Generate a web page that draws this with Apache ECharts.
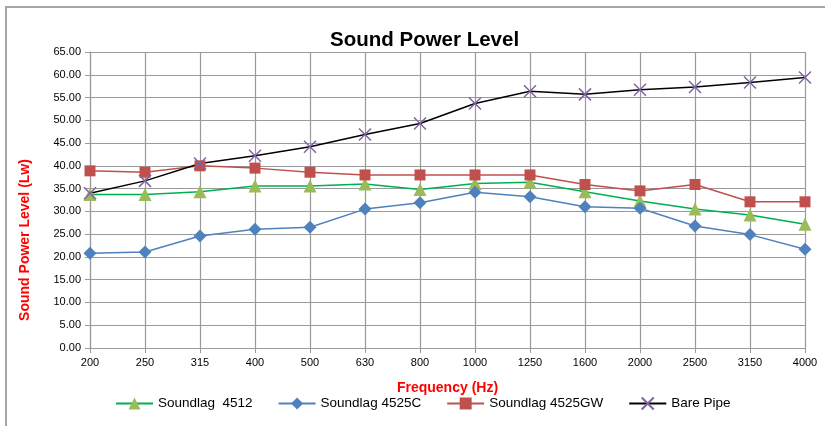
<!DOCTYPE html>
<html>
<head>
<meta charset="utf-8">
<script src="https://cdn.jsdelivr.net/npm/echarts@6/dist/echarts.min.js"></script>
<style>
  html, body { margin: 0; padding: 0; background: #fff; }
  #chart { width: 825px; height: 426px; }
</style>
</head>
<body>
<div id="chart"></div>
<script>
var frequencies = ['200', '250', '315', '400', '500', '630', '800', '1000', '1250', '1600', '2000', '2500', '3150', '4000'];
var soundlag4512 = [33.7, 33.7, 34.3, 35.6, 35.6, 36.0, 34.8, 36.1, 36.4, 34.3, 32.3, 30.5, 29.2, 27.2];
var soundlag4525C = [20.8, 21.1, 24.6, 26.1, 26.5, 30.5, 31.9, 34.2, 33.2, 31.0, 30.7, 26.8, 24.9, 21.7];
var soundlag4525GW = [38.9, 38.6, 40.0, 39.5, 38.6, 38.0, 38.0, 38.0, 38.0, 35.9, 34.5, 35.9, 32.1, 32.1];
var barePipe = [34.0, 36.7, 40.5, 42.2, 44.2, 46.9, 49.3, 53.7, 56.4, 55.7, 56.7, 57.3, 58.3, 59.4];

var font = 'Liberation Sans, Arial, sans-serif';
var gridColor = '#9a9a9a';

var chart = echarts.init(document.getElementById('chart'));
var option = {
    animation: false,
    textStyle: { fontFamily: font },
    title: {
        text: 'Sound Power Level',
        left: 325,
        top: 25,
        textStyle: { fontSize: 20.5, fontWeight: 'bold', color: '#000', fontFamily: font }
    },
    graphic: [{
        type: 'rect',
        shape: { x: 6, y: 7, width: 830, height: 430 },
        style: { fill: 'none', stroke: '#a6a6a6', lineWidth: 2 },
        silent: true
    }, {
        type: 'text',
        x: 25,
        y: 240,
        rotation: Math.PI / 2,
        style: {
            text: 'Sound Power Level (Lw)',
            fill: '#ff0000',
            font: 'bold 14px ' + font,
            align: 'center',
            verticalAlign: 'middle'
        }
    }],
    legend: {
        bottom: 9,
        left: 110,
        itemWidth: 37,
        itemHeight: 15,
        itemGap: 25,
        textStyle: { fontSize: 13.5, color: '#000', fontFamily: font },
        data: ['Soundlag  4512', 'Soundlag 4525C', 'Soundlag 4525GW', 'Bare Pipe']
    },
    grid: { left: 90, right: 20, top: 52, bottom: 78 },
    xAxis: {
        type: 'category',
        boundaryGap: false,
        data: frequencies,
        name: 'Frequency (Hz)',
        nameLocation: 'middle',
        nameGap: 33,
        nameTextStyle: { color: '#ff0000', fontWeight: 'bold', fontSize: 14, fontFamily: font },
        axisLine: { lineStyle: { color: gridColor, width: 1.2 } },
        axisTick: { show: true, length: 5, alignWithLabel: true, lineStyle: { color: gridColor } },
        axisLabel: { color: '#000', fontSize: 11, margin: 9, fontFamily: font },
        splitLine: { show: true, lineStyle: { color: gridColor, width: 1.2 } }
    },
    yAxis: {
        type: 'value',
        min: 0,
        max: 65,
        interval: 5,
        axisLine: { show: true, lineStyle: { color: gridColor, width: 1.2 } },
        axisTick: { show: true, length: 5, lineStyle: { color: gridColor } },
        axisLabel: {
            color: '#000', fontSize: 11, margin: 9, fontFamily: font,
            formatter: function (v) { return v.toFixed(2); }
        },
        splitLine: { show: true, lineStyle: { color: gridColor, width: 1.2 } }
    },
    series: [{
        name: 'Soundlag  4512',
        type: 'line',
        data: soundlag4512,
        symbol: 'triangle',
        symbolSize: 13,
        lineStyle: { color: '#00b050', width: 1.5 },
        itemStyle: { color: '#9bbb59' }
    }, {
        name: 'Soundlag 4525C',
        type: 'line',
        data: soundlag4525C,
        symbol: 'diamond',
        symbolSize: 13,
        lineStyle: { color: '#4f81bd', width: 1.5 },
        itemStyle: { color: '#4f81bd' }
    }, {
        name: 'Soundlag 4525GW',
        type: 'line',
        data: soundlag4525GW,
        symbol: 'rect',
        symbolSize: 11,
        lineStyle: { color: '#c0504d', width: 1.5 },
        itemStyle: { color: '#c0504d' }
    }, {
        name: 'Bare Pipe',
        type: 'line',
        data: barePipe,
        symbol: 'path://M0,0L10,10M10,0L0,10',
        symbolSize: 12,
        lineStyle: { color: '#000', width: 1.5 },
        itemStyle: { color: 'none', borderColor: '#8064a2', borderWidth: 1.5 }
    }]
};
chart.setOption(option);
</script>
</body>
</html>
